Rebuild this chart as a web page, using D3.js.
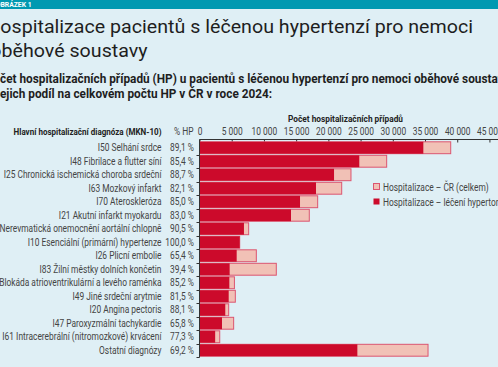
<!DOCTYPE html>
<html><head><meta charset="utf-8">
<script src="https://cdn.jsdelivr.net/npm/d3@7"></script>
<style>
html,body{margin:0;padding:0;background:#dfeff5;overflow:hidden;}
svg{display:block;}
</style></head><body>
<svg id="c" width="498" height="367"></svg>
<script>
const categories = [
  "I50 Selhání srdce",
  "I48 Fibrilace a flutter síní",
  "I25 Chronická ischemická choroba srdeční",
  "I63 Mozkový infarkt",
  "I70 Ateroskleróza",
  "I21 Akutní infarkt myokardu",
  "I35 Nerevmatická onemocnění aortální chlopně",
  "I10 Esenciální (primární) hypertenze",
  "I26 Plicní embolie",
  "I83 Žilní městky dolních končetin",
  "I44 Blokáda atrioventrikulární a levého raménka",
  "I49 Jiné srdeční arytmie",
  "I20 Angina pectoris",
  "I47 Paroxyzmální tachykardie",
  "I61 Intracerebrální (nitromozkové) krvácení",
  "Ostatní diagnózy"
];
const hypertonici = [34740, 24800, 20880, 18080, 15600, 14200, 6900, 6240, 5770, 4680, 4630, 4530, 4000, 3490, 2430, 24500];
const celkem =      [38990, 29050, 23510, 22070, 18340, 17040, 7630, 6240, 8820, 11920, 5420, 5560, 4530, 5300, 3140, 35470];
const podil = [89.1, 85.4, 88.7, 82.1, 85.0, 83.0, 90.5, 100.0, 65.4, 39.4, 85.2, 81.5, 88.1, 65.8, 77.3, 69.2];
const tickValues = [0, 5000, 10000, 15000, 20000, 25000, 30000, 35000, 40000, 45000];
const legendLabels = ["Hospitalizace – ČR (celkem)", "Hospitalizace – léčení hypertonici"];

const W = 498, H = 367;
const COL_RED = "#cc0a2b", COL_PINK = "#f1c1b6", COL_STROKE = "#dc5570";
const FONT = "Roboto, sans-serif";
const svg = d3.select("#c");

// measure helper
const meas = svg.append("text").attr("font-family",FONT).attr("x",-1000).attr("y",-1000);
function textW(str, size, weight) {
  meas.attr("font-size",size).attr("font-weight",weight||"normal").text(str);
  return meas.node().getComputedTextLength();
}
// condensed text helper: places text at (x,y) squeezed horizontally by factor s
function ctext(parent, x, y, str, size, s, opts) {
  opts = opts || {};
  const g = parent.append("g").attr("transform", `translate(${x},${y}) scale(${s},1)`);
  return g.append("text").attr("font-family",FONT).attr("font-size",size)
    .attr("font-weight", opts.weight || "normal").attr("fill", opts.fill || "#444")
    .attr("text-anchor", opts.anchor || "start").attr("dy", opts.dy || null).text(str);
}

// condensing factor for 10px labels, calibrated on label widths
const calib = [[0, 62], [2, 147], [7, 151], [14, 155]];
const S = d3.mean(calib, ([i, w]) => w / textW(categories[i], 10));

// header bar
svg.append("rect").attr("x",0).attr("y",0).attr("width",W).attr("height",9).attr("fill","#0099b1");
const obW = textW("O",8,"bold") * 0.85;
ctext(svg, -obW + 0.5, 7.4, "OBRÁZEK 1", 8, 0.85, {weight:"bold", fill:"#fff"});

// title (line 1 "ospitalizace ... nemoci" spans ≈ 0..473)
const tSize = 17.5;
const tl1 = "ospitalizace pacientů s léčenou hypertenzí pro nemoci";
const tS = 473 / textW(tl1, tSize);
ctext(svg, 473, 33, "Hospitalizace pacientů s léčenou hypertenzí pro nemoci", tSize, tS, {anchor:"end", fill:"#1e1e1e"});
const oW = textW("o", tSize) * tS;
ctext(svg, 1.5 - oW, 57, "oběhové soustavy", tSize, tS, {fill:"#1e1e1e"});

// subtitle
const sSize = 12;
const sl1 = "čet hospitalizačních případů (HP) u pacientů s léčenou hypertenzí pro nemoci oběhové sousta";
const sS = 498 / textW(sl1, sSize, "bold");
const poW = textW("Po", sSize, "bold") * sS;
const ajW = textW("a j", sSize, "bold") * sS;
ctext(svg, -poW, 83, "Počet hospitalizačních případů (HP) u pacientů s léčenou hypertenzí pro nemoci oběhové soustavy", sSize, sS, {weight:"bold", fill:"#1e1e1e"});
ctext(svg, -ajW, 98, "a jejich podíl na celkovém počtu HP v ČR v roce 2024:", sSize, sS, {weight:"bold", fill:"#1e1e1e"});

// scales
const x = d3.scaleLinear().domain([0, 50000]).range([199.5, 199.5 + 50 * 6.443]);
const y = d3.scaleBand().domain(categories).range([141, 357]).paddingInner(0.12).paddingOuter(0.06);

// x axis
const xa = svg.append("g").attr("transform","translate(0,139.5)")
  .call(d3.axisTop(x).tickValues(tickValues).tickSize(-3).tickPadding(5)
    .tickFormat(d => d3.format(",")(d).replace(/,/g," ")));
xa.select(".domain").attr("stroke","#333").attr("d", `M199.5,0H${W+10}`);
xa.selectAll(".tick line").attr("stroke","#333");
xa.selectAll(".tick text").attr("font-family",FONT).attr("font-size",10).attr("fill","#444")
  .attr("transform", `scale(${S},1)`);

// axis title (≈ 115px wide, centred at 345.5)
const atS = 115 / textW("Počet hospitalizačních případů", 9.5, "bold");
ctext(svg, 345.5, 122, "Počet hospitalizačních případů", 9.5, atS, {anchor:"middle", weight:"bold", fill:"#222"});

// column headers
const hS = 148 / textW("Hlavní hospitalizační diagnóza (MKN-10)", 9.5, "bold");
ctext(svg, 161.5, 135, "Hlavní hospitalizační diagnóza (MKN-10)", 9.5, hS, {anchor:"end", weight:"bold", fill:"#222"});
ctext(svg, 193.5, 135, "% HP", 10, S, {anchor:"end", fill:"#444"});

// bars
const rows = categories.map((c,i) => ({c, h: hypertonici[i], t: celkem[i], p: podil[i]}));
const g = svg.append("g");
g.selectAll("rect.tot").data(rows).join("rect").attr("class","tot")
  .attr("x", x(0)).attr("y", d => y(d.c)).attr("height", y.bandwidth())
  .attr("width", d => x(d.t) - x(0))
  .attr("fill", COL_PINK).attr("stroke", COL_STROKE).attr("stroke-width",1);
g.selectAll("rect.hyp").data(rows).join("rect").attr("class","hyp")
  .attr("x", x(0)).attr("y", d => y(d.c)).attr("height", y.bandwidth())
  .attr("width", d => x(d.h) - x(0))
  .attr("fill", COL_RED);

// left axis with boundary ticks
const gap = y.step() * y.paddingInner() / 2;
const la = svg.append("g").attr("stroke","#333").attr("stroke-width",1);
la.append("line").attr("x1",199.5).attr("x2",199.5).attr("y1",139.5).attr("y2",357.5);
const bounds = categories.slice(1).map(c => y(c) - gap).concat([y.range()[1]]);
la.selectAll("line.b").data(bounds).join("line").attr("class","b")
  .attr("x1",196.5).attr("x2",199.5)
  .attr("y1", d => Math.round(d) + 0.5).attr("y2", d => Math.round(d) + 0.5);

// category labels and shares
const lab = svg.append("g");
rows.forEach(d => {
  const cy = y(d.c) + y.bandwidth()/2;
  ctext(lab, 161.5, cy, d.c, 10, S, {anchor:"end", dy:"0.35em"});
  ctext(lab, 194, cy, d.p.toFixed(1).replace(".", ",") + " %", 10, S, {anchor:"end", dy:"0.35em"});
});

// legend
const lg = svg.append("g");
const legCols = [COL_PINK, COL_RED];
legendLabels.forEach((l,i) => {
  const yy = 187 + i*15;
  lg.append("rect").attr("x",373.5).attr("y",yy-3.5).attr("width",6).attr("height",6)
    .attr("fill",legCols[i]).attr("stroke", i===0 ? COL_STROKE : "none");
  ctext(lg, 383, yy, l, 10, S, {dy:"0.35em", fill:"#444"});
});
meas.remove();
</script>
</body></html>
